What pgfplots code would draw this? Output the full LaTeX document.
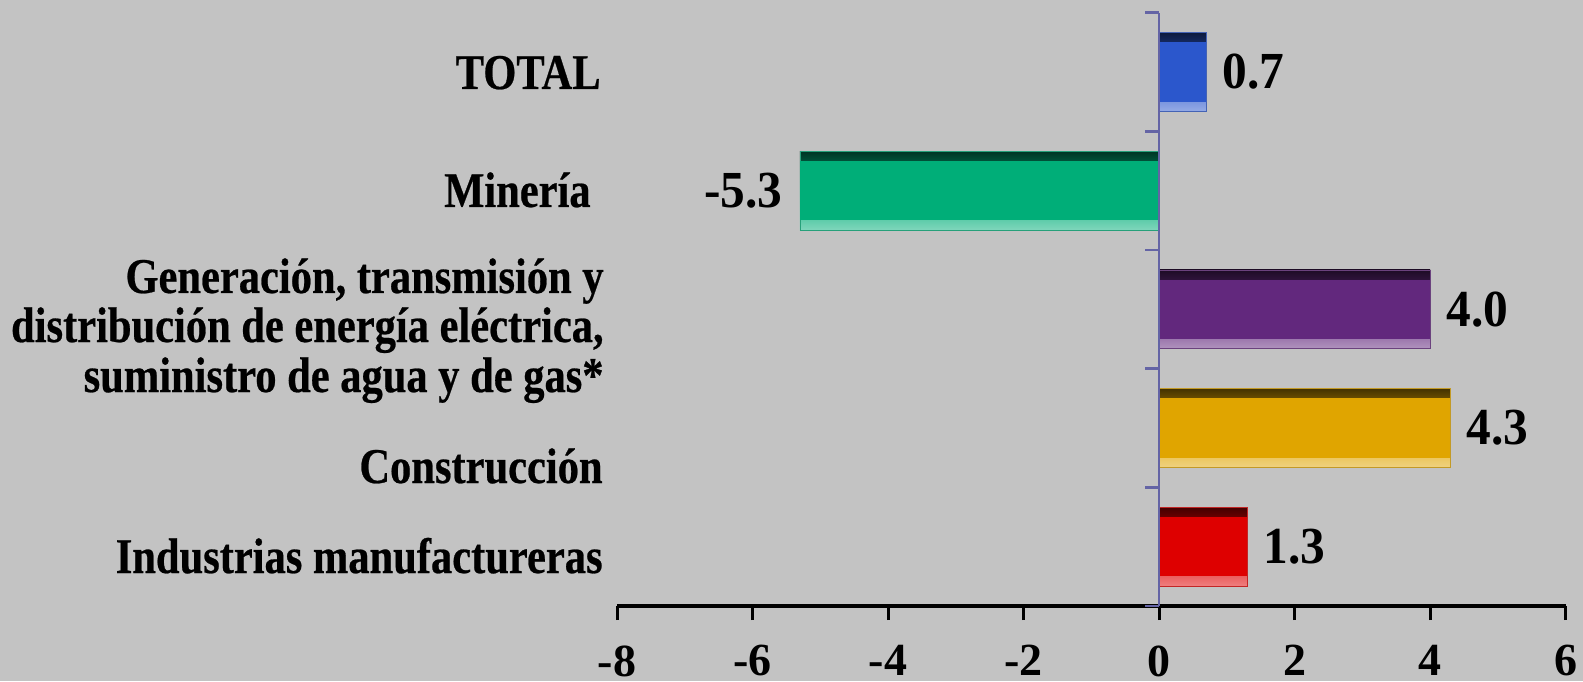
\documentclass[border=0pt]{standalone}
\usepackage{fontspec}
\setmainfont{Liberation Serif}
\newfontfamily\catfont[FakeStretch=0.85,FakeBold=0.5]{Liberation Serif}
\newfontfamily\valfont[FakeStretch=0.95]{Liberation Serif}
\usepackage{pgfplots}
\pgfplotsset{compat=1.18}
\definecolor{bg}{RGB}{195,195,195}
\definecolor{yax}{RGB}{100,100,165}
\definecolor{cTotal}{RGB}{43,87,204}
\definecolor{cMin}{RGB}{0,174,120}
\definecolor{cGen}{RGB}{98,40,125}
\definecolor{cCon}{RGB}{224,165,0}
\definecolor{cInd}{RGB}{222,0,0}
\pgfplotsset{
  outerbar/.style={xbar, bar width=0.665, draw=#1!70!gray, line width=0.4pt,
    top color=#1!30!black, bottom color=#1!50!white, middle color=#1, nodes near coords={}},
  innerbar/.style={xbar, bar width=0.5, fill=#1, draw=none},
  valnode/.style={every node near coord/.append style={anchor=#1, inner sep=0pt, text=black,
    font=\valfont\bfseries\fontsize{26}{28}\selectfont}}}
\begin{document}
\begin{tikzpicture}
\fill[bg] (0,0) rectangle (791.5pt,340.5pt);
\begin{axis}[
  at={(308.5pt,37.5pt)}, anchor=south west,
  scale only axis, width=474.25pt, height=296.65pt,
  xmin=-8, xmax=6, ymin=-0.5, ymax=4.5,
  axis x line*=bottom, axis y line=none,
  x axis line style={black, line width=1.6pt},
  xtick={-8,-6,-4,-2,0,2,4,6},
  xticklabels={-8,-6,-4,-2,0,2,4,6},
  tick align=outside, major tick length=7pt,
  xtick style={black, line width=1.5pt},
  xticklabel style={anchor=north, inner sep=0pt, yshift=-12.5pt, font=\bfseries\fontsize{23}{25}\selectfont},
  ytick=\empty,
  bar shift=0pt,
  clip=false,
  point meta=explicit symbolic,
]
% outer bevel bars
\addplot[outerbar=cInd] coordinates {(1.3,0) [1.3]};
\addplot[outerbar=cCon] coordinates {(4.3,1) [4.3]};
\addplot[outerbar=cGen] coordinates {(4.0,2) [4.0]};
\addplot[outerbar=cMin] coordinates {(-5.3,3) [-5.3]};
\addplot[outerbar=cTotal] coordinates {(0.7,4) [0.7]};
% bar faces with value labels
\addplot[innerbar=cInd, nodes near coords, valnode=west, every node near coord/.append style={xshift=8pt}] coordinates {(1.3,0) [1.3]};
\addplot[innerbar=cCon, nodes near coords, valnode=west, every node near coord/.append style={xshift=8pt}] coordinates {(4.3,1) [4.3]};
\addplot[innerbar=cGen, nodes near coords, valnode=west, every node near coord/.append style={xshift=8pt}] coordinates {(4.0,2) [4.0]};
\addplot[innerbar=cMin, nodes near coords, valnode=east, every node near coord/.append style={xshift=-8.5pt}] coordinates {(-5.3,3) [-5.3]};
\addplot[innerbar=cTotal, nodes near coords, valnode=west, every node near coord/.append style={xshift=8pt}] coordinates {(0.7,4) [0.7]};
\draw[yax, line width=1.4pt] (axis cs:0,-0.5) -- (axis cs:0,4.5);
\draw[yax, line width=1.4pt] (axis cs:0,-0.5) -- ++(-7pt,0pt);
\draw[yax, line width=1.4pt] (axis cs:0,0.5) -- ++(-7pt,0pt);
\draw[yax, line width=1.4pt] (axis cs:0,1.5) -- ++(-7pt,0pt);
\draw[yax, line width=1.4pt] (axis cs:0,2.5) -- ++(-7pt,0pt);
\draw[yax, line width=1.4pt] (axis cs:0,3.5) -- ++(-7pt,0pt);
\draw[yax, line width=1.4pt] (axis cs:0,4.5) -- ++(-7pt,0pt);
\end{axis}
\begin{scope}[every node/.style={inner sep=0pt, anchor=base east, font=\catfont\bfseries\fontsize{25}{25}\selectfont}]
\node at (300.5pt,296pt) {TOTAL};
\node at (295.5pt,237pt) {Minería};
\node at (302pt,194pt) {Generación, transmisión y};
\node at (302pt,169.5pt) {distribución de energía eléctrica,};
\node at (302pt,144.5pt) {suministro de agua y de gas*};
\node at (301.5pt,99pt) {Construcción};
\node at (301.5pt,54pt) {Industrias manufactureras};
\end{scope}
\pgfresetboundingbox
\useasboundingbox (0,0) rectangle (791.5pt,340.5pt);
\end{tikzpicture}
\end{document}
